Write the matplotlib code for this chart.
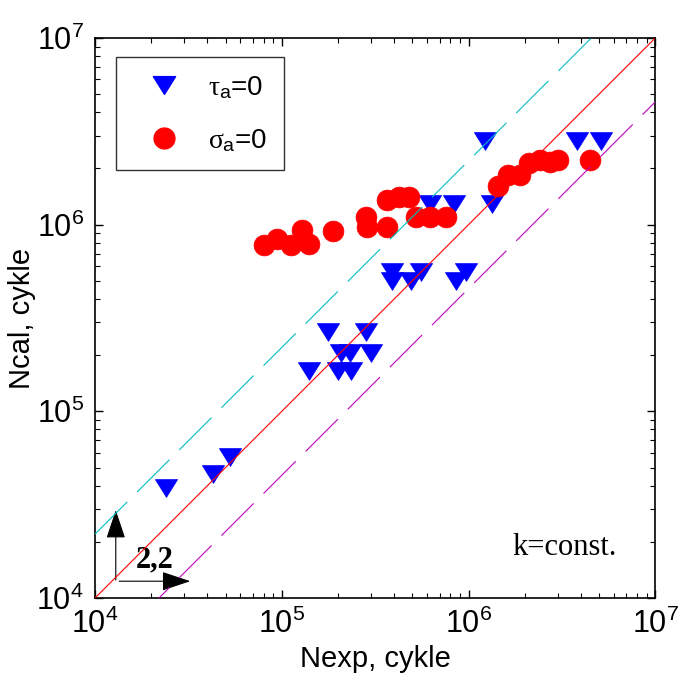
import numpy as np
import matplotlib
matplotlib.use('Agg')
import matplotlib.pyplot as plt
from matplotlib.path import Path
from matplotlib.lines import Line2D

plt.rcParams['font.family'] = ['Liberation Sans', 'DejaVu Sans']
plt.rcParams['mathtext.fontset'] = 'custom'
plt.rcParams['mathtext.rm'] = 'Liberation Sans'
plt.rcParams['mathtext.it'] = 'Liberation Serif'
plt.rcParams['mathtext.bf'] = 'Liberation Sans:bold'

# tau_a = 0 (blue triangles)
tau_nexp = [2.4e4, 4.3e4, 5.3e4, 1.76e5, 2.84e5, 2.08e5, 2.32e5, 3.01e5, 1.40e5,
            2.00e5, 2.35e5, 3.88e5, 3.88e5, 5.57e5, 4.93e5, 9.71e5, 8.53e5,
            6.23e5, 8.37e5, 1.34e6, 1.23e6, 3.82e6, 5.13e6]
tau_ncal = [3.9e4, 4.6e4, 5.7e4, 2.67e5, 2.67e5, 2.06e5, 2.06e5, 2.06e5, 1.64e5,
            1.64e5, 1.64e5, 5.55e5, 5.0e5, 5.55e5, 5.0e5, 5.55e5, 5.0e5,
            1.29e6, 1.29e6, 1.29e6, 2.81e6, 2.81e6, 2.81e6]

# sigma_a = 0 (red circles)
sig_nexp = [8.0e4, 9.4e4, 1.12e5, 1.28e5, 1.40e5, 1.87e5, 2.81e5, 2.87e5, 3.64e5,
            3.65e5, 4.25e5, 4.81e5, 5.24e5, 6.23e5, 7.59e5, 1.43e6, 1.62e6,
            1.89e6, 2.11e6, 2.42e6, 2.72e6, 3.02e6, 4.45e6]
sig_ncal = [7.8e5, 8.4e5, 7.8e5, 9.35e5, 7.9e5, 9.3e5, 1.10e6, 9.7e5, 9.7e5,
            1.36e6, 1.40e6, 1.40e6, 1.10e6, 1.10e6, 1.10e6, 1.62e6, 1.85e6,
            1.85e6, 2.14e6, 2.23e6, 2.16e6, 2.23e6, 2.23e6]

k_scatter = 2.2
lims = [1e4, 1e7]

# плоский треугольник как в MATLAB
tri = Path([(0, -0.8), (-1, 0.8), (1, 0.8), (0, -0.8)],
           [Path.MOVETO, Path.LINETO, Path.LINETO, Path.CLOSEPOLY])

fig = plt.figure(figsize=(6.79, 6.85), dpi=100)
ax = fig.add_axes([0.140, 0.127, 0.825, 0.8175])

ax.plot(tau_nexp, tau_ncal, linestyle='none', marker=tri, ms=16,
        color='#0000ff', mec='#0000ff', mew=0.5, zorder=3)
ax.plot(sig_nexp, sig_ncal, linestyle='none', marker='o', ms=15,
        color='#ff0000', mec='#ff0000', mew=0.5, zorder=4)

x = np.array(lims)
ax.plot(x, x, color='#ff0000', lw=0.8, zorder=5)
l1, = ax.plot(x, x * k_scatter, color='#00bfbf', lw=0.8, zorder=5)
l2, = ax.plot(x, x / k_scatter, color='#bf00bf', lw=0.8, zorder=5)
for ln in (l1, l2):
    ln.set_dashes([41, 12.6])

ax.set_xscale('log')
ax.set_yscale('log')
ax.set_xlim(lims)
ax.set_ylim(lims)

ax.tick_params(which='both', direction='in', top=True, right=True)
ax.tick_params(which='major', length=6, width=1, labelsize=22, pad=8)
ax.tick_params(which='minor', length=3.5, width=0.8)
for s in ax.spines.values():
    s.set_linewidth(1.2)

ax.set_xlabel('Nexp, cykle', fontsize=21, labelpad=3)
ax.set_ylabel('Ncal, cykle', fontsize=21, labelpad=0)

# стрелки 2,2
arw = dict(arrowstyle='-|>,head_length=0.9,head_width=0.3', mutation_scale=20,
           color='black', lw=0.8, shrinkA=0, shrinkB=0)
ax.annotate('', xy=(0.037, 0.157), xytext=(0.037, 0.032),
            xycoords='axes fraction', arrowprops=arw)
ax.annotate('', xy=(0.170, 0.030), xytext=(0.043, 0.030),
            xycoords='axes fraction', arrowprops=arw)
ax.text(0.107, 0.068, '2,2', transform=ax.transAxes, fontsize=22,
        family='Liberation Serif', weight='bold', ha='center', va='center')
ax.text(0.839, 0.091, 'k=const.', transform=ax.transAxes, fontsize=22,
        family='Liberation Serif', ha='center', va='center')

handles = [
    Line2D([], [], linestyle='none', marker=tri, ms=16, color='#0000ff'),
    Line2D([], [], linestyle='none', marker='o', ms=15, color='#ff0000'),
]
labels = [r'$\tau_{\mathrm{a}}$=0', r'$\sigma_{\mathrm{a}}$=0']
leg = ax.legend(handles, labels, loc='upper left', bbox_to_anchor=(0.0375, 0.966),
                fontsize=20, frameon=True, fancybox=False, borderaxespad=0,
                handlelength=2.25, handletextpad=0.46, labelspacing=0.94,
                borderpad=0.6)
leg.get_frame().set_edgecolor('black')
leg.get_frame().set_linewidth(1.0)

fig.savefig('out.png', dpi=100)
